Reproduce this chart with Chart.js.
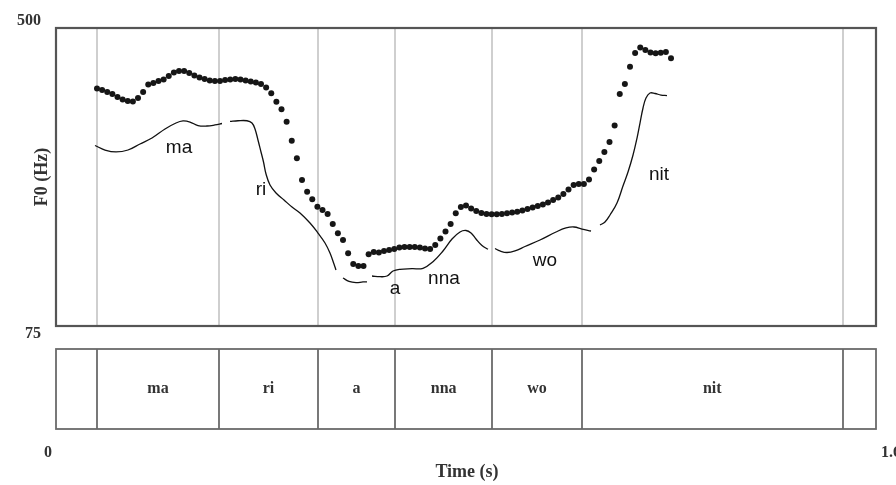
<!DOCTYPE html>
<html><head><meta charset="utf-8">
<script src="https://cdn.jsdelivr.net/npm/chart.js@4/dist/chart.umd.min.js"></script>
<style>html,body{margin:0;padding:0;background:#fff}canvas{display:block}</style>
</head><body>
<canvas id="c" width="896" height="485"></canvas>
<script>
// ---- DATA ----
const xRange = [0, 1.6];
const yRange = [75, 500];
const xTickValues = [0, 1.6];
const xTickLabels = ['0', '1.6'];
const yTickValues = [75, 500];
const yTickLabels = ['75', '500'];
const xTitle = 'Time (s)';
const yTitle = 'F0 (Hz)';

const pitchTime = [0.08,0.09,0.10,0.11,0.12,0.13,0.14,0.15,0.16,0.17,0.18,0.19,0.20,0.21,0.22,0.23,0.24,0.25,0.26,0.27,
0.28,0.29,0.30,0.31,0.32,0.33,0.34,0.35,0.36,0.37,0.38,0.39,0.40,0.41,0.42,0.43,0.44,0.45,0.46,0.47,
0.48,0.49,0.50,0.51,0.52,0.53,0.54,0.55,0.56,0.57,0.58,0.59,0.60,0.61,0.62,0.63,0.64,0.65,0.66,0.67,
0.68,0.69,0.70,0.71,0.72,0.73,0.74,0.75,0.76,0.77,0.78,0.79,0.80,0.81,0.82,0.83,0.84,0.85,0.86,0.87,
0.88,0.89,0.90,0.91,0.92,0.93,0.94,0.95,0.96,0.97,0.98,0.99,1.00,1.01,1.02,1.03,1.04,1.05,1.06,1.07,
1.08,1.09,1.10,1.11,1.12,1.13,1.14,1.15,1.16,1.17,1.18,1.19,1.20];
const pitchHz = [413.7,411.6,408.7,405.9,401.6,398.0,395.9,395.2,400.2,408.7,419.4,421.6,424.4,426.6,431.6,436.5,438.7,438.7,435.8,432.3,
429.4,427.3,425.1,424.4,424.4,425.8,426.6,427.3,426.6,425.1,423.7,422.3,420.1,415.1,406.9,394.9,384.1,366.4,339.3,314.2,
283.2,266.5,255.7,245.1,240.4,234.7,220.5,207.2,197.7,178.7,163.4,160.6,160.6,177.3,180.5,179.8,182.0,183.4,184.8,187.0,
187.7,187.7,187.7,187.0,185.5,184.8,190.5,199.8,209.8,220.5,235.7,244.7,246.9,242.6,239.0,236.2,234.7,234.3,234.3,234.7,
235.7,236.9,238.0,239.7,241.9,244.0,246.1,248.3,251.1,254.7,258.3,263.3,269.7,276.1,277.5,277.5,283.9,298.2,310.3,323.2,
337.4,361.0,405.9,420.1,444.8,464.4,472.2,468.6,465.1,463.9,464.8,465.8,456.8];

// hand-drawn stylised contours [time, Hz]
const contourMa = [[0.0761,332.4],[0.0956,326.0],[0.1171,323.2],[0.1405,326.0],[0.1639,334.6],[0.1873,343.1],[0.2127,356.0],
  [0.2341,364.5],[0.2478,367.4],[0.2615,365.9],[0.2771,360.9],[0.2946,360.2],[0.3102,361.7],[0.3239,363.8]];
const contourRi = [[0.3395,366.7],[0.3551,367.7],[0.3727,367.7],[0.3824,364.5],[0.3883,356.0],[0.3941,340.3],[0.4000,323.2],
  [0.4049,308.9],[0.4098,291.8],[0.4176,276.1],[0.4293,264.7],[0.4449,254.7],[0.4605,244.7],[0.4761,236.2],[0.4956,221.9],
  [0.5112,207.6],[0.5249,193.4],[0.5346,179.1],[0.5424,163.4],[0.5463,154.9]];
const contourA = [[0.5600,143.5],[0.5717,138.5],[0.5854,136.8],[0.5990,137.8],[0.6068,137.8]];
const contourNna = [[0.6166,146.3],[0.6322,145.3],[0.6459,146.3],[0.6576,153.4],[0.6712,155.9],[0.6946,156.7],[0.7161,157.3],
  [0.7356,166.7],[0.7551,182.0],[0.7727,199.1],[0.7883,209.1],[0.8000,211.2],[0.8098,207.6],[0.8195,199.1],[0.8312,189.8],[0.8429,184.4]];
const contourWo = [[0.8566,185.5],[0.8663,182.0],[0.8800,179.8],[0.8956,182.0],[0.9151,188.4],[0.9444,197.7],[0.9756,209.1],
  [0.9951,214.8],[1.0107,216.2],[1.0263,213.3],[1.0439,210.5]];
const contourNit = [[1.0615,219.0],[1.0712,223.3],[1.0810,233.3],[1.0946,250.4],[1.1063,274.7],[1.1161,294.6],[1.1259,318.9],
  [1.1337,343.1],[1.1395,364.5],[1.1454,385.9],[1.1512,400.2],[1.1590,407.3],[1.1688,406.6],[1.1805,404.4],[1.1922,403.7]];

const annotText = ['ma','ri','a','nna','wo','nit'];
const annotTime = [0.240,0.400,0.6615,0.757,0.954,1.1766];
const annotHz   = [328.9,269.0,127.8,142.0,167.7,290.4];

const boundaryTimes = [0.080,0.318,0.511,0.662,0.851,1.026,1.535];
const tierLabels = ['ma','ri','a','nna','wo','nit'];

// ---- CHART ----
const contourList = [contourMa, contourRi, contourA, contourNna, contourWo, contourNit];
const datasets = [{
  label: 'F0',
  data: pitchTime.map((t,i)=>({x:t, y:pitchHz[i]})),
  pointRadius: 3.0,
  pointBackgroundColor: '#161616',
  pointBorderWidth: 0,
  showLine: false
}];
contourList.forEach(c => datasets.push({
  data: c.map(p=>({x:p[0], y:p[1]})),
  showLine: true, pointRadius: 0, borderColor: '#111', borderWidth: 1.3, tension: 0.4, fill: false
}));

const SERIF = '"Liberation Serif","DejaVu Serif",serif';
const SANS = '"Liberation Sans",Arial,sans-serif';

const praatPlugin = {
  id: 'praat',
  beforeDatasetsDraw(chart) {
    const {ctx, chartArea:a, scales:{x}} = chart;
    ctx.save();
    ctx.strokeStyle = '#cfcfcf';
    ctx.lineWidth = 2;
    boundaryTimes.forEach(t => {
      const px = Math.round(x.getPixelForValue(t));
      ctx.beginPath(); ctx.moveTo(px, a.top); ctx.lineTo(px, a.bottom); ctx.stroke();
    });
    ctx.restore();
  },
  afterDatasetsDraw(chart) {
    const {ctx, chartArea:a, scales:{x,y}} = chart;
    ctx.save();
    // annotation labels
    ctx.fillStyle = '#111';
    ctx.font = '19px ' + SANS;
    ctx.textAlign = 'center'; ctx.textBaseline = 'middle';
    annotText.forEach((s,i)=> ctx.fillText(s, x.getPixelForValue(annotTime[i]), y.getPixelForValue(annotHz[i])));
    // frame
    ctx.strokeStyle = '#555';
    ctx.lineWidth = 2.2;
    ctx.strokeRect(a.left, a.top, a.right - a.left, a.bottom - a.top);
    // tier
    const tTop = a.bottom + 23, tBot = a.bottom + 103;
    const x0 = x.getPixelForValue(xRange[0]), x1 = x.getPixelForValue(xRange[1]);
    ctx.strokeStyle = '#6a6a6a';
    ctx.lineWidth = 1.8;
    ctx.strokeRect(x0, tTop, x1 - x0, tBot - tTop);
    boundaryTimes.forEach(t => {
      const px = Math.round(x.getPixelForValue(t));
      ctx.beginPath(); ctx.moveTo(px, tTop); ctx.lineTo(px, tBot); ctx.stroke();
    });
    ctx.fillStyle = '#333';
    ctx.font = 'bold 16px ' + SERIF;
    ctx.textAlign = 'center'; ctx.textBaseline = 'middle';
    tierLabels.forEach((s,i)=>{
      const cx = (x.getPixelForValue(boundaryTimes[i]) + x.getPixelForValue(boundaryTimes[i+1]))/2;
      ctx.fillText(s, cx, (tTop+tBot)/2);
    });
    // axis tick labels
    ctx.fillStyle = '#333';
    ctx.font = 'bold 16px ' + SERIF;
    ctx.textAlign = 'right';
    ctx.textBaseline = 'bottom';
    ctx.fillText(yTickLabels[1], a.left - 15, y.getPixelForValue(yTickValues[1]) + 1);
    ctx.textBaseline = 'top';
    ctx.fillText(yTickLabels[0], a.left - 15, y.getPixelForValue(yTickValues[0]));
    ctx.textBaseline = 'middle';
    ctx.textAlign = 'right';
    ctx.fillText(xTickLabels[0], x.getPixelForValue(xTickValues[0]) - 4, tBot + 24);
    ctx.textAlign = 'left';
    ctx.fillText(xTickLabels[1], x.getPixelForValue(xTickValues[1]) + 5, tBot + 24);
    // titles
    ctx.font = 'bold 18px ' + SERIF;
    ctx.textAlign = 'center';
    ctx.fillText(xTitle, (x0 + x1)/2 + 1, tBot + 43);
    ctx.translate(a.left - 14, 177);
    ctx.rotate(-Math.PI/2);
    ctx.fillText(yTitle, 0, 0);
    ctx.restore();
  }
};

new Chart(document.getElementById('c'), {
  type: 'scatter',
  data: { datasets },
  options: {
    responsive: false,
    animation: false,
    devicePixelRatio: 1,
    layout: { padding: { left: 56, top: 28, right: 20, bottom: 159 } },
    plugins: { legend: { display: false }, tooltip: { enabled: false } },
    scales: {
      x: { type: 'linear', min: xRange[0], max: xRange[1], display: false },
      y: { type: 'linear', min: yRange[0], max: yRange[1], display: false }
    }
  },
  plugins: [praatPlugin]
});
</script>
</body></html>
